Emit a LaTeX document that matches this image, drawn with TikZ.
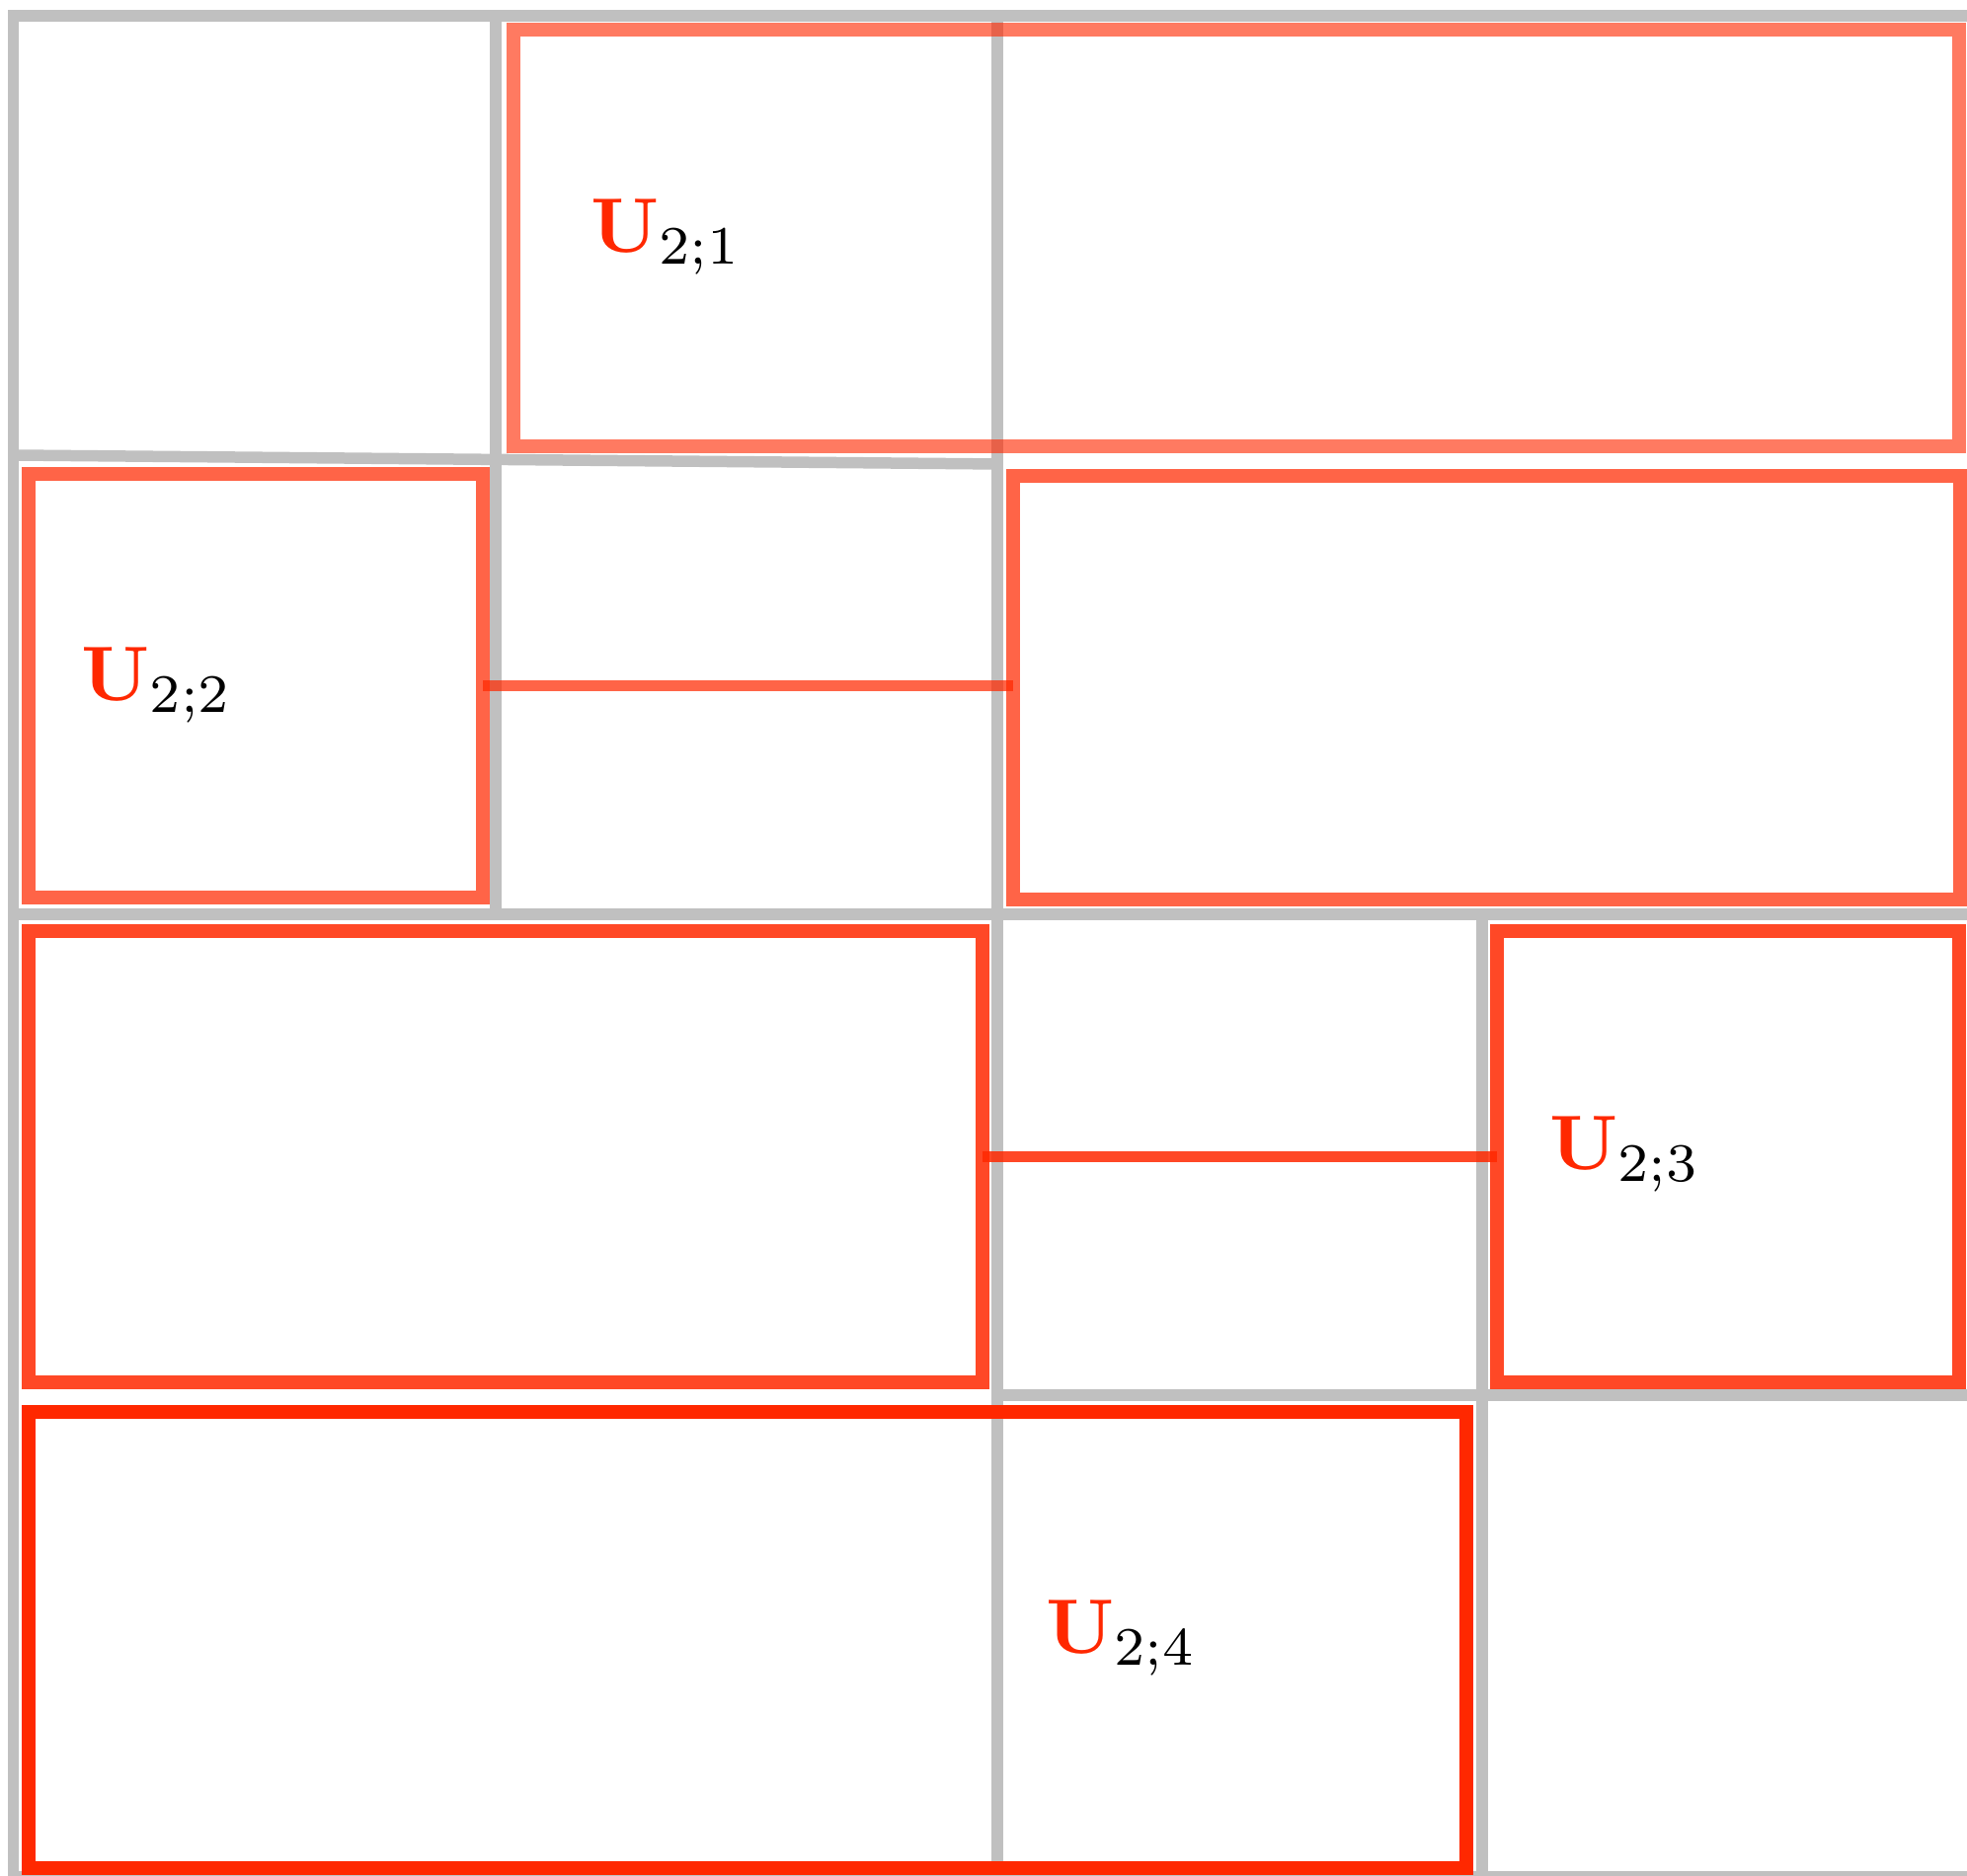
\documentclass[tikz,border=0pt]{standalone}
\usepackage{amsmath,amssymb}
\usepackage{tikz}
\usetikzlibrary{positioning,calc}

\definecolor{ured}{HTML}{FF2800}
\definecolor{gridgray}{HTML}{C0C0C0}

\begin{document}
\begin{tikzpicture}[
  grid/.style={draw=gridgray,line width=0.115cm},
  ubox/.style={rectangle,draw=ured,line width=0.14cm,inner sep=0pt,outer sep=0pt},
  link/.style={draw=ured,line width=0.11cm},
  lab/.style={anchor=base west,inner sep=0pt,scale=2.23}]
  \useasboundingbox (0,0) rectangle (19.92,19.00);
  % grey cells
  \draw[grid] (0.135,-0.01) rectangle (20.05,18.84);
  \draw[grid] (0.135,14.39) -- (10.10,14.30);
  \draw[grid] (0.135,9.74) -- (20.05,9.74);
  \draw[grid] (10.10,4.87) -- (20.05,4.87);
  \draw[grid] (5.02,18.84) -- (5.02,9.74);
  \draw[grid] (10.10,18.84) -- (10.10,-0.01);
  \draw[grid] (15.01,9.74) -- (15.01,-0.01);
  % the sets U_{2;k}
  \node[ubox,draw opacity=0.62,minimum width=14.64cm,minimum height=4.22cm] (b21) at (12.52,16.59) {};
  \node[ubox,draw opacity=0.72,minimum width=4.60cm,minimum height=4.29cm] (b22) at (2.59,12.05) {};
  \node[ubox,draw opacity=0.72,minimum width=9.59cm,minimum height=4.29cm] (b22r) at (15.055,12.03) {};
  \node[ubox,draw opacity=0.85,minimum width=9.66cm,minimum height=4.57cm] (b23l) at (5.12,7.285) {};
  \node[ubox,draw opacity=0.85,minimum width=4.68cm,minimum height=4.57cm] (b23) at (17.50,7.285) {};
  \node[ubox,minimum width=14.56cm,minimum height=4.62cm] (b24) at (7.57,2.39) {};
  \draw[link,draw opacity=0.72] (b22.east) -- (b22.east -| b22r.west);
  \draw[link,draw opacity=0.85] (b23l.east) -- (b23l.east -| b23.west);
  % labels
  \node[lab] (l21) at (5.965,16.44) {$\textcolor{ured}{\mathbf{U}}_{2;1}$};
  \node[lab] (l22) at (0.81,11.90) {$\textcolor{ured}{\mathbf{U}}_{2;2}$};
  \node[lab] (l23) at (15.675,7.15) {$\textcolor{ured}{\mathbf{U}}_{2;3}$};
  \node[lab] (l24) at (10.575,2.25) {$\textcolor{ured}{\mathbf{U}}_{2;4}$};
\end{tikzpicture}
\end{document}
